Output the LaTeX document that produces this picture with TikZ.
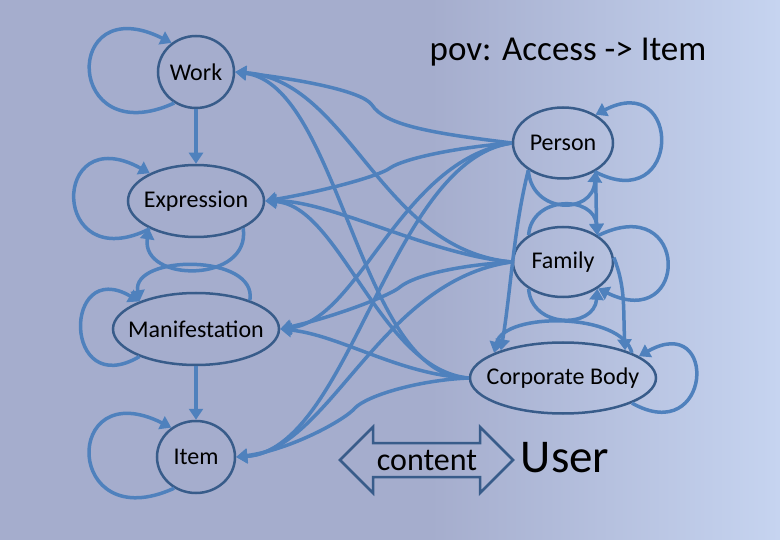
\documentclass[tikz,border=0pt]{standalone}
\usepackage{fontspec}
\setmainfont{Carlito}
\usetikzlibrary{arrows.meta,shapes.geometric}

\definecolor{bgmain}{RGB}{165,173,205}
\definecolor{bglight}{RGB}{198,212,240}
\definecolor{edgeblue}{RGB}{79,129,189}
\definecolor{nodeline}{RGB}{56,92,138}

% label with no width, so the ellipse keeps its own size
\newcommand{\lbl}[1]{\makebox[0pt]{#1}}

\begin{document}
\begin{tikzpicture}[x=1pt, y=-1pt, style={
  frbr/.style={
    ellipse,
    draw=nodeline,
    line width=2.5pt,
    inner sep=0pt,
    minimum height=72pt,
    font=\fontsize{24}{28}\selectfont,
  },
  agent/.style={
    frbr,
    minimum height=71pt,
  },
  myarrow/.style={-{Triangle[length=11pt,width=14pt]}, draw=edgeblue, line width=3.5pt},
  bigtext/.style={anchor=base, inner sep=0pt},
}]
\fill[bgmain] (0,0) rectangle (780,540);
\shade[left color=bgmain, right color=bglight] (430,0) rectangle (780,540);
\useasboundingbox (0,0) rectangle (780,540);

% group 1 on the left
\draw[]
  node[frbr, minimum width=76pt] (work) at (196,72) {\lbl{Work}}
  node[frbr, minimum width=136pt] (expression) at (196,201) {\lbl{Expression}}
  node[frbr, minimum width=166pt] (manifestation) at (196,329) {\lbl{Manifestation}}
  node[frbr, minimum width=78pt] (item) at (196,457) {\lbl{Item}}
;
% group 2 on the right
\draw[]
  node[agent, minimum width=100pt] (person) at (563,143) {\lbl{Person}}
  node[agent, minimum width=100pt, minimum height=70pt] (family) at (563,262) {\lbl{Family}}
  node[agent, minimum width=186pt] (corp) at (563,378) {\lbl{Corporate Body}}
;

\node[bigtext, font=\fontsize{35}{40}\selectfont] (title) at (568,61) {pov: Access -> Item};
\node[bigtext, font=\fontsize{47}{52}\selectfont] (user) at (565,472) {User};
\draw[nodeline, line width=2.5pt, line join=miter]
  (340,460) -- (373,427) -- (373,443) -- (480,443) -- (480,427) -- (513,460)
  -- (480,493) -- (480,477) -- (373,477) -- (373,493) -- cycle;
\node[bigtext, font=\fontsize{32}{36}\selectfont] (content) at (427,470) {content};

% loops of group 1
\draw[myarrow] (work.235) .. controls +(-110,50) and +(-110,-55) .. (work.130);
\draw[myarrow] (expression.211) .. controls +(-100,50) and +(-100,-55) .. (expression.149);
\draw[myarrow] (manifestation.206) .. controls +(-77,45) and +(-77,-45) .. (manifestation.154);
\draw[myarrow] (item.235) .. controls +(-110,50) and +(-110,-55) .. (item.130);
\draw[myarrow] (expression.-30) .. controls +(8,55) and +(-8,55) .. (expression.210);
\draw[myarrow] (manifestation.28) .. controls +(8,-47) and +(-8,-47) .. (manifestation.154);
\draw[myarrow] (work) -- (expression);
\draw[myarrow] (manifestation) -- (item);

% loops of group 2
\draw[myarrow] (person.-42) .. controls +(87,45) and +(87,-45) .. (person.41);
\draw[myarrow] (person.218) .. controls +(3,44) and +(-3,44) .. (person.-41);
\draw[myarrow] (family.142) .. controls +(3,-40) and +(-3,-40) .. (family.38);
\draw[myarrow] (family.37) .. controls +(92,-45) and +(92,45) .. (family.-37);
\draw[myarrow] (family.218) .. controls +(3,40) and +(-3,40) .. (family.-38);
\draw[myarrow] (corp.20) .. controls +(-10,-41) and +(10,-41) .. (corp.160);
\draw[myarrow] (corp.-20) .. controls +(80,45) and +(80,-45) .. (corp.16);
\draw[myarrow] (person.218) .. controls +(-15,60) and +(10,-60) .. (corp.156);
\draw[myarrow] (person.-41) -- (family.39);
\draw[myarrow] (family.5) .. controls +(12,30) and +(-2,-40) .. (corp.24);

% group 2 to group 1
\draw[myarrow] (person.west) .. controls (430,133) and (385,125) .. (372,105)
  .. controls (362,90) and (290,78) .. (work.east);
\draw[myarrow] (family.west) .. controls (380,250) and (350,80) .. (work.east);
\draw[myarrow] (corp.west) .. controls (360,380) and (340,85) .. (work.east);
\draw[myarrow] (person.west) .. controls (460,147) and (405,158) .. (390,168)
  .. controls (380,176) and (320,192) .. (expression.east);
\draw[myarrow] (family.west) .. controls (430,255) and (330,200) .. (expression.east);
\draw[myarrow] (corp.west) .. controls (380,370) and (340,205) .. (expression.east);
\draw[myarrow] (person.west) .. controls (400,160) and (360,320) .. (manifestation.east);
\draw[myarrow] (family.west) .. controls (460,265) and (415,275) .. (400,287)
  .. controls (390,296) and (330,318) .. (manifestation.east);
\draw[myarrow] (corp.west) .. controls (400,375) and (340,335) .. (manifestation.east);
\draw[myarrow] (person.west) .. controls (390,160) and (350,450) .. (item.east);
\draw[myarrow] (family.west) .. controls (380,280) and (330,450) .. (item.east);
\draw[myarrow] (corp.west) .. controls (420,380) and (368,395) .. (355,408)
  .. controls (345,420) and (290,450) .. (item.east);
\end{tikzpicture}
\end{document}
